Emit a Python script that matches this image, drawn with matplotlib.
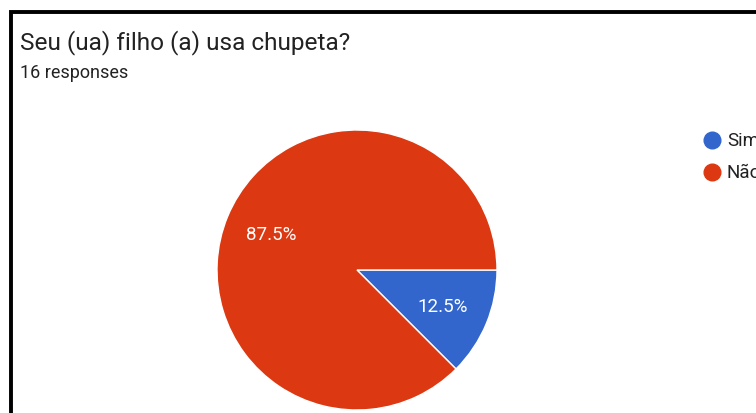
import matplotlib.pyplot as plt
from matplotlib.lines import Line2D

plt.rcParams['font.family'] = ['Roboto', 'DejaVu Sans']

title = "Seu (ua) filho (a) usa chupeta?"
subtitle = "16 responses"
labels = ["Sim", "Não"]
values = [2, 14]
colors = ["#3366cc", "#dc3912"]

W, H = 756, 414
fig = plt.figure(figsize=(W / 100, H / 100), dpi=100)

# border (only top and left visible, rest cropped)
fig.add_artist(Line2D([11 / W, 11 / W, 1], [0, 1 - 13 / H, 1 - 13 / H],
                      transform=fig.transFigure, color="black", lw=2.8,
                      solid_joinstyle="miter"))

fig.text(20 / W, 1 - 43 / H, title, fontsize=17.6, color="#222222", va="center")
fig.text(20 / W, 1 - 73 / H, subtitle, fontsize=13, color="#222222", va="center")

# pie
cx, cy, r = 357, 271, 140
ax = fig.add_axes([(cx - r) / W, (H - cy - r) / H, 2 * r / W, 2 * r / H])
wedges, texts, autotexts = ax.pie(values, colors=colors, startangle=0, counterclock=False,
                                  autopct="%1.1f%%", pctdistance=0.665,
                                  wedgeprops=dict(edgecolor="white", linewidth=1),
                                  textprops=dict(color="white", fontsize=13.5))
ax.set_xlim(-1, 1)
ax.set_ylim(-1, 1)
ax.axis("off")

# legend (cropped at right edge)
for i, lab in enumerate(labels):
    y = 141 + i * 32
    fig.add_artist(Line2D([712 / W], [1 - y / H], transform=fig.transFigure,
                          marker="o", markersize=12, color=colors[i], lw=0))
    fig.text(727 / W, 1 - y / H, lab, fontsize=13.5, color="#222222", va="center")

fig.savefig("out.png", dpi=100)
